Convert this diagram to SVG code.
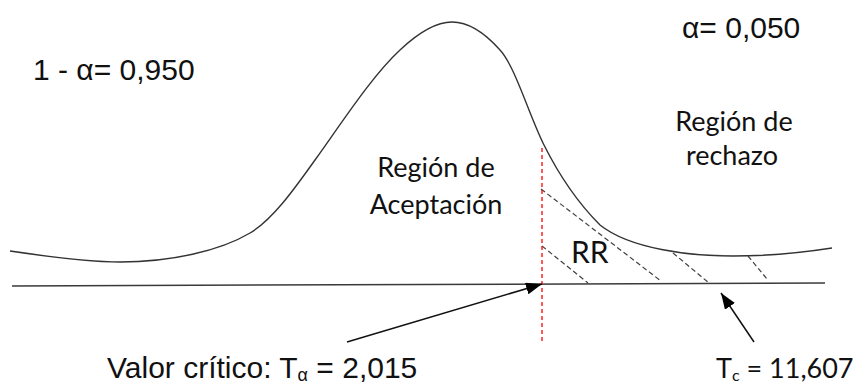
<svg xmlns="http://www.w3.org/2000/svg" width="853" height="385" viewBox="0 0 853 385">
<style>
.curve{fill:none;stroke:#333;stroke-width:1.4}
.axis{fill:none;stroke:#3a3a3a;stroke-width:1.5}
.crit{fill:none;stroke:#ff0000;stroke-width:1.3;stroke-dasharray:4 3}
.hatch{fill:none;stroke:#404040;stroke-width:1.2;stroke-dasharray:5 3}
.arr{fill:none;stroke:#111;stroke-width:1.5}
.ar{font-family:"Liberation Sans",Arial,sans-serif;font-size:30px;fill:#111}
.cal{font-family:Lato,"Open Sans",sans-serif;font-size:27px;fill:#111}
</style>
<defs>
<marker id="ah" viewBox="0 0 16 12" refX="16" refY="6" markerWidth="16" markerHeight="12" markerUnits="userSpaceOnUse" orient="auto">
<path d="M0,0 L16,6 L0,12 z" fill="#000"/>
</marker>
</defs>
<rect width="853" height="385" fill="#fff"/>
<g id="curve">
<path class="curve" d="M10,251 C50,257 90,262 120,262 C170,262 220,251 250,233 C272,220 293,191 315,160 C343,121 372,76 400,50 C417,34 435,22 452,22 C468,22 484,32 500,50 C515,66 529,115 544,145 C563,183 581,206 600,225 C630,249 690,256 733,256 C770,256 800,253 832,248"/>
</g>
<g id="axis">
<line class="axis" x1="12" y1="286" x2="825" y2="283"/>
</g>
<g id="rejection-hatch">
<line class="hatch" x1="541" y1="189" x2="661" y2="281"/>
<line class="hatch" x1="542" y1="246" x2="588" y2="283"/>
<line class="hatch" x1="673" y1="253" x2="709" y2="283"/>
<line class="hatch" x1="748" y1="256" x2="767" y2="279"/>
</g>
<g id="critical-line">
<line class="crit" x1="542" y1="148" x2="542" y2="342"/>
</g>
<g id="connectors">
<line class="arr" x1="347" y1="342" x2="542" y2="284" marker-end="url(#ah)"/>
<line class="arr" x1="754" y1="342" x2="721" y2="293" marker-end="url(#ah)"/>
</g>
<g id="labels">
<text class="ar" x="33" y="80">1 - α= 0,950</text>
<text class="ar" x="682" y="38">α= 0,050</text>
<text class="cal" x="734" y="131" text-anchor="middle">Región de</text>
<text class="cal" x="732" y="165" text-anchor="middle">rechazo</text>
<text class="cal" x="436" y="177" text-anchor="middle">Región de</text>
<text class="cal" x="436" y="214" text-anchor="middle">Aceptación</text>
<text class="cal" x="571" y="263" style="font-size:30px">RR</text>
<text class="ar" x="107" y="378">Valor crítico: T<tspan font-size="18" dy="3">α</tspan><tspan dy="-3"> = 2,015</tspan></text>
<text class="cal" x="716" y="378">T<tspan font-size="16" dy="3">c</tspan><tspan dy="-3"> = 11,607</tspan></text>
</g>
</svg>
